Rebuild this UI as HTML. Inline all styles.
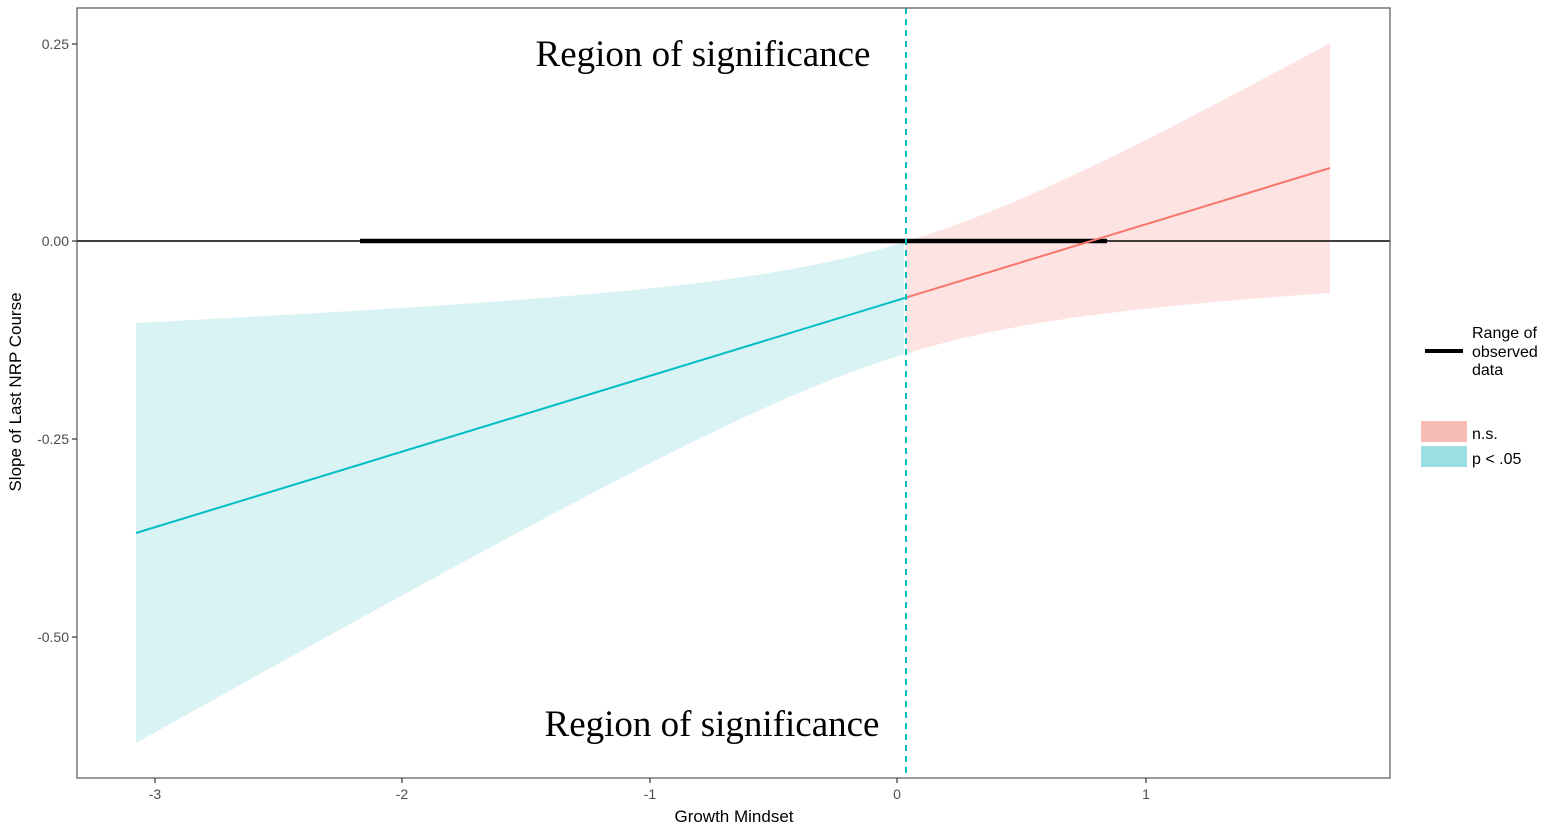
<!DOCTYPE html>
<html><head><meta charset="utf-8"><style>
body{margin:0;background:#fff;}
svg{display:block;font-family:"Liberation Sans",sans-serif;}
</style></head><body>
<svg id="s" width="1548" height="830" xmlns="http://www.w3.org/2000/svg">
<rect width="1548" height="830" fill="#fff"/>
<g id="bands"></g>
<line x1="77" y1="241" x2="1390" y2="241" stroke="#000" stroke-width="1.6"/>
<line x1="360" y1="241" x2="1107" y2="241" stroke="#000" stroke-width="4.5"/>
<line x1="136" y1="533" x2="906" y2="297.6" stroke="#00BFC4" stroke-width="2"/>
<line x1="906" y1="297.6" x2="1330" y2="168" stroke="#F8766D" stroke-width="2"/>
<line x1="906" y1="8" x2="906" y2="778" stroke="#00BFC4" stroke-width="2" stroke-dasharray="6,5"/>
<rect x="77" y="8" width="1313" height="770" fill="none" stroke="#555" stroke-width="1.2"/>
<g stroke="#333" stroke-width="1.2">
<line x1="72" y1="44" x2="77" y2="44"/><line x1="72" y1="241" x2="77" y2="241"/>
<line x1="72" y1="439" x2="77" y2="439"/><line x1="72" y1="637" x2="77" y2="637"/>
<line x1="155" y1="778" x2="155" y2="783"/><line x1="402" y1="778" x2="402" y2="783"/>
<line x1="650" y1="778" x2="650" y2="783"/><line x1="897" y1="778" x2="897" y2="783"/>
<line x1="1146" y1="778" x2="1146" y2="783"/>
</g>
<g fill="#4d4d4d" font-size="14" text-anchor="end">
<text x="69" y="49">0.25</text><text x="69" y="246">0.00</text>
<text x="69" y="444">-0.25</text><text x="69" y="642">-0.50</text>
</g>
<g fill="#4d4d4d" font-size="14" text-anchor="middle">
<text x="155" y="799">-3</text><text x="402" y="799">-2</text><text x="650" y="799">-1</text>
<text x="897" y="799">0</text><text x="1146" y="799">1</text>
</g>
<text x="734" y="822" font-size="17" text-anchor="middle" fill="#000">Growth Mindset</text>
<text transform="translate(21,392) rotate(-90)" font-size="17" text-anchor="middle" fill="#000">Slope of Last NRP Course</text>
<g font-family="'Liberation Serif',serif" font-size="37" text-anchor="middle" fill="#000">
<text x="703" y="66">Region of significance</text>
<text x="712" y="736">Region of significance</text>
</g>
<line x1="1425" y1="351" x2="1463" y2="351" stroke="#000" stroke-width="4"/>
<g font-size="16" fill="#000">
<text x="1472" y="338">Range of</text><text x="1472" y="357">observed</text><text x="1472" y="375">data</text>
<text x="1472" y="439">n.s.</text><text x="1472" y="464">p &lt; .05</text>
</g>
<rect x="1421" y="421" width="46" height="21" fill="#F8BCB8"/>
<rect x="1421" y="446" width="46" height="21" fill="#9CDFE2"/>
</svg>
<script>
(function(){
function c(p){return 533-0.30570*(p-136);}
function h(p){return Math.sqrt(3136+0.06924*(p-905.3)*(p-905.3));}
function band(a,b,fill){
 var up=[],lo=[];
 for(var p=a;p<=b+0.01;p+=4){var q=Math.min(p,b);up.push(q+","+(c(q)-h(q)).toFixed(1));lo.unshift(q+","+(c(q)+h(q)).toFixed(1));}
 var e=document.createElementNS("http://www.w3.org/2000/svg","polygon");
 e.setAttribute("points",up.concat(lo).join(" "));e.setAttribute("fill",fill);
 document.getElementById("bands").appendChild(e);
}
band(136,906,"#D9F2F3");band(906,1330,"#FDE4E3");
})();
</script>
</body></html>
